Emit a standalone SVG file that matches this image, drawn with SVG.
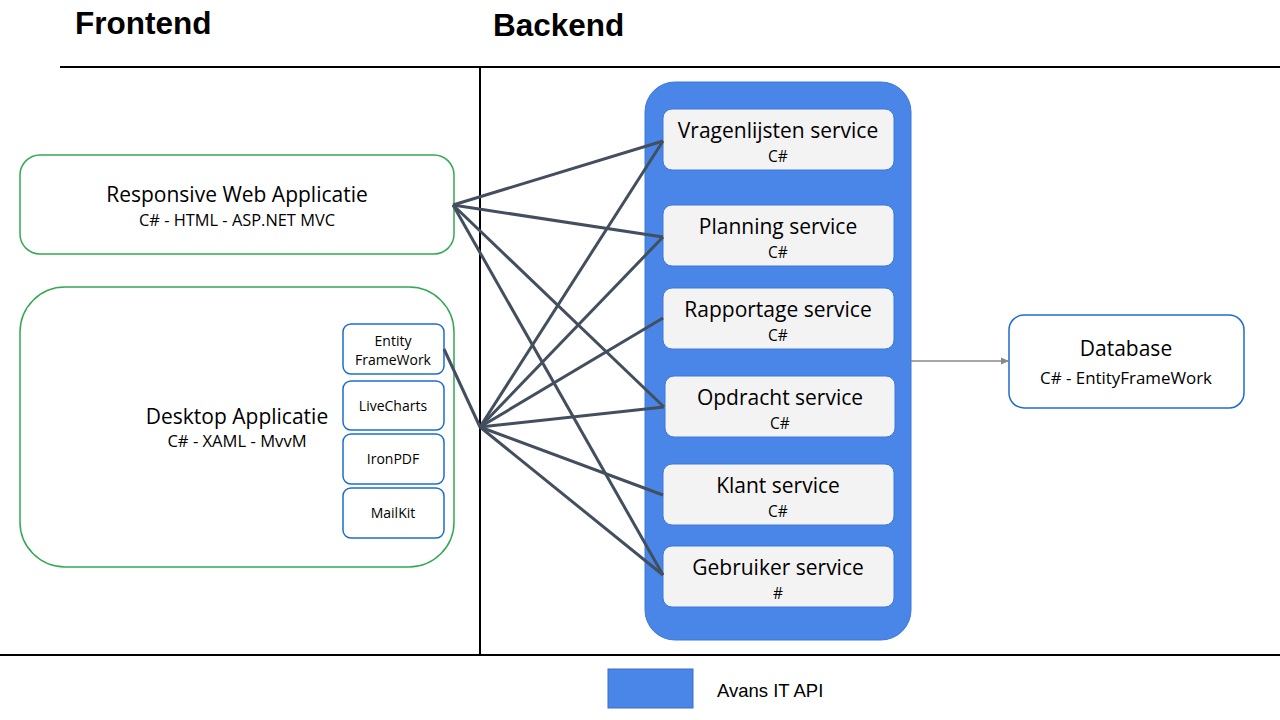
<svg xmlns="http://www.w3.org/2000/svg" width="1280" height="720" viewBox="0 0 1280 720">
<style>
.t{font-family:"Open Sans","Noto Sans",sans-serif;fill:#000;text-anchor:middle}
.h{font-family:"Liberation Sans",Arial,sans-serif;font-weight:bold;font-size:31.5px;fill:#000}
.g{fill:#fff;stroke:#34a853;stroke-width:1.5}
.b{fill:#fff;stroke:#1c6ccf;stroke-width:1.5}
.s{fill:#f3f3f3;stroke:#3c78d8;stroke-width:1}
.c{stroke:#434f5e;stroke-width:3;fill:none}
</style>
<defs>
<marker id="ar" markerWidth="8" markerHeight="8" refX="7" refY="4" orient="auto" markerUnits="userSpaceOnUse">
<path d="M0,0.5 L8,4 L0,7.5 Z" fill="#888"/>
</marker>
</defs>
<rect width="1280" height="720" fill="#fff"/>
<g id="frame">
<line x1="60" y1="67" x2="1280" y2="67" stroke="#000" stroke-width="2"/>
<line x1="480" y1="67" x2="480" y2="655" stroke="#000" stroke-width="2"/>
<line x1="0" y1="655" x2="1280" y2="655" stroke="#000" stroke-width="2"/>
<text class="h" x="75" y="34">Frontend</text>
<text class="h" x="493" y="36">Backend</text>
</g>
<g id="web">
<rect class="g" x="20" y="155" width="434" height="99" rx="20"/>
<text class="t" x="237" y="202" font-size="21">Responsive Web Applicatie</text>
<text class="t" x="237" y="226" font-size="16.4">C# - HTML - ASP.NET MVC</text>
</g>
<g id="desktop">
<rect class="g" x="20" y="287" width="434" height="280" rx="45"/>
<text class="t" x="237" y="424" font-size="21">Desktop Applicatie</text>
<text class="t" x="237" y="447" font-size="16.6">C# - XAML - MvvM</text>
</g>
<g id="entity">
<rect class="b" x="343" y="324" width="101" height="50" rx="8"/>
<text class="t" x="393" y="346" font-size="14">Entity</text>
<text class="t" x="393" y="365" font-size="14">FrameWork</text>
</g>
<g id="livecharts">
<rect class="b" x="343" y="381" width="101" height="49" rx="8"/>
<text class="t" x="393" y="411" font-size="14">LiveCharts</text>
</g>
<g id="ironpdf">
<rect class="b" x="343" y="434" width="101" height="50" rx="8"/>
<text class="t" x="393" y="464" font-size="14">IronPDF</text>
</g>
<g id="mailkit">
<rect class="b" x="343" y="488" width="101" height="50" rx="8"/>
<text class="t" x="393" y="518" font-size="14">MailKit</text>
</g>
<g id="api">
<rect x="645" y="82" width="266" height="558" rx="30" fill="#4a86e8" stroke="#3c78d8"/>
</g>
<g id="vragenlijsten">
<rect class="s" x="663" y="109" width="231" height="61" rx="9"/>
<text class="t" x="778" y="138" font-size="21">Vragenlijsten service</text>
<text class="t" x="778" y="162" font-size="15.5">C#</text>
</g>
<g id="planning">
<rect class="s" x="663" y="205" width="231" height="61" rx="9"/>
<text class="t" x="778" y="234" font-size="21">Planning service</text>
<text class="t" x="778" y="258" font-size="15.5">C#</text>
</g>
<g id="rapportage">
<rect class="s" x="663" y="288" width="231" height="61" rx="9"/>
<text class="t" x="778" y="317" font-size="21">Rapportage service</text>
<text class="t" x="778" y="341" font-size="15.5">C#</text>
</g>
<g id="opdracht">
<rect class="s" x="665" y="376" width="230" height="61" rx="9"/>
<text class="t" x="780" y="405" font-size="21">Opdracht service</text>
<text class="t" x="780" y="429" font-size="15.5">C#</text>
</g>
<g id="klant">
<rect class="s" x="663" y="464" width="231" height="61" rx="9"/>
<text class="t" x="778" y="493" font-size="21">Klant service</text>
<text class="t" x="778" y="517" font-size="15.5">C#</text>
</g>
<g id="gebruiker">
<rect class="s" x="663" y="546" width="231" height="61" rx="9"/>
<text class="t" x="778" y="575" font-size="21">Gebruiker service</text>
<text class="t" x="778" y="599" font-size="15.5">#</text>
</g>
<g id="database">
<rect class="b" x="1009" y="315" width="235" height="93" rx="15"/>
<text class="t" x="1126" y="356" font-size="21">Database</text>
<text class="t" x="1126" y="384" font-size="16.9">C# - EntityFrameWork</text>
</g>
<g id="connectors">
<line class="c" x1="453" y1="205" x2="663" y2="141"/>
<line class="c" x1="453" y1="205" x2="663" y2="237"/>
<line class="c" x1="453" y1="205" x2="664" y2="407"/>
<line class="c" x1="453" y1="205" x2="663" y2="575"/>
<line class="c" x1="480" y1="427" x2="663" y2="141"/>
<line class="c" x1="480" y1="427" x2="663" y2="237"/>
<line class="c" x1="480" y1="427" x2="663" y2="318"/>
<line class="c" x1="480" y1="427" x2="664" y2="407"/>
<line class="c" x1="480" y1="427" x2="663" y2="495"/>
<line class="c" x1="480" y1="427" x2="663" y2="575"/>
<line class="c" x1="444" y1="349" x2="480" y2="427"/>
<line x1="911" y1="361" x2="1008" y2="361" stroke="#888" stroke-width="1.3" marker-end="url(#ar)"/>
</g>
<g id="legend">
<rect x="608" y="669" width="85" height="39" fill="#4a86e8" stroke="#3a6fc4"/>
<text x="717" y="697" font-family="'Liberation Sans',Arial,sans-serif" font-size="18.5" fill="#000">Avans IT API</text>
</g>
</svg>
